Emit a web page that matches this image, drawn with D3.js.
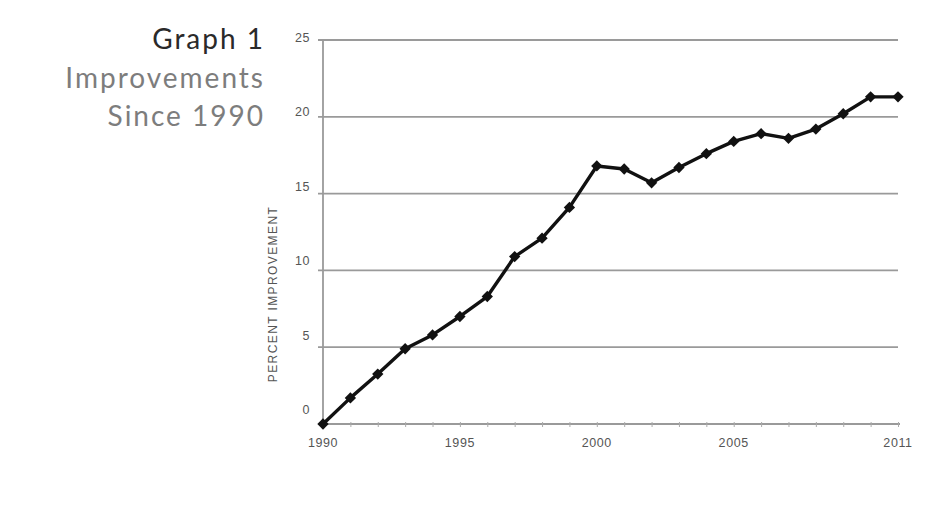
<!DOCTYPE html>
<html>
<head>
<meta charset="utf-8">
<script src="https://cdn.jsdelivr.net/npm/d3@7"></script>
<style>
body { margin: 0; background: #fff; }
svg { display: block; }
</style>
</head>
<body>
<div id="chart"></div>
<script>
// data
var years = [1990, 1991, 1992, 1993, 1994, 1995, 1996, 1997, 1998, 1999, 2000,
	2001, 2002, 2003, 2004, 2005, 2006, 2007, 2008, 2009, 2010, 2011];
var improvement = [0, 1.7, 3.25, 4.9, 5.8, 7.0, 8.3, 10.9, 12.1, 14.1, 16.8,
	16.6, 15.7, 16.7, 17.6, 18.4, 18.9, 18.6, 19.2, 20.2, 21.3, 21.3];
var yTicks = [0, 5, 10, 15, 20, 25];
var xTicks = [1990, 1995, 2000, 2005, 2011];
var titleLines = ["Graph 1", "Improvements", "Since 1990"];

function createChart(div) {
	var svg = d3.select("#" + div).append("svg").attr("width", 948)
			.attr("height", 517);
	svg.append("rect").attr("width", 948).attr("height", 517).attr("fill", "#fff");
	return svg;
}

function drawTitle(svg) {
	var colors = ["#2a2a2a", "#7d7d7d", "#7d7d7d"];
	var baselines = [49, 88, 126];
	titleLines.forEach(function(t, i) {
		svg.append("text").attr("x", 265).attr("y", baselines[i])
				.attr("text-anchor", "end").attr("font-family", "Lato, sans-serif")
				.attr("font-size", 28).attr("letter-spacing", 2)
				.attr("fill", colors[i]).text(t);
	});
}

var svg = createChart("chart");
drawTitle(svg);

var x = d3.scaleLinear().domain([1990, 2011]).range([323, 898]);
var y = d3.scaleLinear().domain([0, 25]).range([424, 40]);
// the printed tick labels sit a touch higher than their gridlines
var yLabel = d3.scaleLinear().domain([0, 25]).range([409, 37]);
var font = "Liberation Sans, Arial, sans-serif";

// gridlines
svg.append("g").selectAll("line").data(yTicks.slice(1)).enter().append("line")
		.attr("x1", 318).attr("x2", 898)
		.attr("y1", function(d) { return y(d); })
		.attr("y2", function(d) { return y(d); })
		.attr("stroke", "#9a9a9a").attr("stroke-width", 1.8);

// y axis line
svg.append("line").attr("x1", x(1990)).attr("x2", x(1990))
		.attr("y1", y(25)).attr("y2", y(0))
		.attr("stroke", "#9a9a9a").attr("stroke-width", 1.8);

// x axis with a tick for each year
var xAxis = d3.axisBottom(x).tickValues(years).tickSize(3).tickFormat("");
var gx = svg.append("g").attr("transform", "translate(0," + y(0) + ")").call(xAxis);
gx.select(".domain").attr("stroke", "#9a9a9a").attr("stroke-width", 1.8)
		.attr("d", "M" + x(1990) + ",0H" + (x(2011) + 2));
gx.selectAll(".tick line").attr("stroke", "#aaa").attr("y1", -2);

// tick labels
svg.append("g").selectAll("text").data(xTicks).enter().append("text")
		.attr("x", function(d) { return x(d); }).attr("y", 447)
		.attr("text-anchor", "middle").attr("font-family", font)
		.attr("font-size", 12.5).attr("letter-spacing", 0.6)
		.attr("fill", "#555").text(function(d) { return d; });

svg.append("g").selectAll("text").data(yTicks).enter().append("text")
		.attr("x", 310).attr("y", function(d) { return yLabel(d) + 5; })
		.attr("text-anchor", "end").attr("font-family", font)
		.attr("font-size", 12.5).attr("letter-spacing", 0.6)
		.attr("fill", "#555").text(function(d) { return d; });

svg.append("text").attr("transform", "translate(277,294) rotate(-90)")
		.attr("text-anchor", "middle").attr("font-family", font)
		.attr("font-size", 12).attr("letter-spacing", 1.4).attr("fill", "#555")
		.text("PERCENT IMPROVEMENT");

// data line
var points = years.map(function(d, i) { return { x: x(d), y: y(improvement[i]) }; });
var line = d3.line().x(function(d) { return d.x; }).y(function(d) { return d.y; });
svg.append("path").attr("d", line(points)).attr("fill", "none")
		.attr("stroke", "#111").attr("stroke-width", 3.4).attr("stroke-linejoin", "round");

// wide diamonds: squares turned 45 degrees
var diamond = d3.symbol().type(d3.symbolSquare).size(64);
svg.append("g").selectAll("path").data(points).enter().append("path")
		.attr("d", diamond)
		.attr("transform", function(d) { return "translate(" + d.x + "," + d.y + ") rotate(45)"; })
		.attr("fill", "#111");
</script>
</body>
</html>
